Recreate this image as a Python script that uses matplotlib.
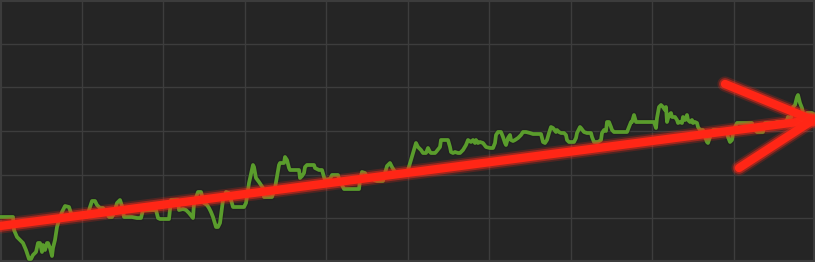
import matplotlib
matplotlib.use("Agg")
import matplotlib.pyplot as plt
import matplotlib.patheffects as pe

# time index (0..815) and level (0..262)
t = [0, 4, 13, 14, 17, 20, 23, 26, 29, 31, 33, 36, 38, 40, 42, 43, 45, 47, 48, 50,
     52, 53, 55, 57, 59, 62, 65, 69, 71, 73, 80, 85, 87, 90, 92, 95, 97, 100, 103, 107,
     109, 112, 114, 117, 120, 122, 124, 128, 132, 137, 141, 143, 150, 156, 158, 160, 169, 171, 175, 178,
     179, 183, 186, 189, 193, 194, 198, 201, 204, 207, 209, 211, 213, 216, 218, 220, 223, 226, 229, 231,
     233, 236, 244, 246, 249, 253, 254, 256, 259, 263, 264, 268, 272, 275, 279, 280, 284, 285, 287, 289,
     290, 299, 300, 302, 304, 305, 307, 314, 315, 319, 322, 324, 325, 330, 332, 338, 340, 342, 344, 359,
     360, 362, 365, 367, 369, 372, 374, 377, 383, 385, 387, 390, 392, 395, 399, 402, 406, 408, 411, 415,
     416, 418, 421, 423, 426, 428, 430, 431, 435, 436, 440, 441, 445, 448, 450, 451, 453, 455, 458, 460,
     463, 466, 468, 471, 473, 475, 476, 478, 480, 483, 486, 490, 493, 495, 496, 498, 501, 503, 505, 506,
     508, 510, 511, 513, 515, 518, 521, 523, 526, 530, 533, 541, 543, 545, 547, 549, 551, 553, 556, 557,
     559, 561, 564, 566, 567, 569, 574, 576, 577, 580, 581, 584, 587, 591, 592, 594, 598, 601, 602, 604,
     606, 607, 609, 611, 612, 614, 624, 627, 629, 631, 632, 634, 636, 654, 656, 657, 659, 661, 663, 665,
     666, 667, 669, 671, 672, 675, 677, 678, 680, 682, 683, 685, 687, 688, 690, 692, 693, 695, 697, 698,
     700, 703, 705, 707, 708, 710, 712, 713, 725, 727, 728, 730, 732, 733, 735, 737, 752, 753, 755, 757,
     763, 765, 775, 777, 785, 787, 788, 790, 792, 793, 795, 797, 798, 800, 802, 803, 805, 807, 812, 815]

level_px = [217, 217, 217, 230, 237, 240, 243, 250, 259, 259, 255, 252, 243, 243, 252, 245, 250, 243, 243, 248,
            256, 248, 240, 227, 220, 212, 206, 207, 213, 215, 215, 215, 217, 207, 201, 201, 205, 208, 208, 213,
            217, 217, 213, 203, 200, 206, 217, 217, 217, 218, 218, 210, 210, 210, 218, 219, 219, 200, 200, 200,
            210, 209, 210, 213, 218, 203, 192, 192, 203, 205, 208, 212, 217, 227, 227, 223, 200, 192, 193, 200,
            207, 207, 207, 203, 183, 165, 167, 178, 182, 188, 197, 197, 197, 188, 165, 163, 163, 157, 160, 168,
            170, 170, 178, 176, 173, 167, 165, 165, 168, 170, 170, 177, 180, 179, 175, 175, 182, 185, 189, 189,
            180, 172, 173, 177, 178, 177, 180, 181, 181, 173, 166, 163, 167, 172, 173, 173, 173, 170, 160, 147,
            143, 147, 150, 153, 153, 148, 152, 153, 153, 152, 147, 140, 140, 140, 147, 152, 153, 152, 153, 153,
            150, 145, 140, 142, 140, 143, 140, 143, 142, 143, 147, 148, 148, 143, 135, 132, 132, 137, 143, 145,
            138, 135, 140, 141, 140, 138, 135, 132, 132, 133, 134, 134, 142, 143, 140, 133, 127, 128, 132, 130,
            132, 133, 133, 135, 140, 142, 142, 138, 133, 127, 128, 132, 133, 133, 137, 142, 142, 140, 133, 130,
            131, 122, 122, 127, 130, 132, 132, 132, 127, 122, 122, 115, 122, 122, 128, 118, 107, 105, 107, 110,
            107, 122, 115, 113, 117, 117, 120, 123, 122, 123, 117, 120, 115, 120, 122, 120, 123, 122, 123, 127,
            130, 130, 137, 142, 143, 137, 132, 130, 130, 132, 137, 142, 140, 133, 127, 123, 123, 127, 130, 132,
            132, 123, 123, 122, 122, 120, 117, 122, 113, 107, 105, 97, 95, 103, 108, 113, 117, 113, 113, 115]

level = [262 - v for v in level_px]

# trend arrow (time, level)
arrow_tail = [0, 262 - 226]
arrow_tip = [813, 262 - 120]
head_upper = [725, 262 - 84]
head_lower = [739, 262 - 168]

W, H = 815, 262
fig = plt.figure(figsize=(8.15, 2.62), dpi=100, facecolor="#252525")
ax = fig.add_axes([0, 0, 1, 1])
ax.set_facecolor("#252525")
ax.set_xlim(0, W)
ax.set_ylim(0, H)
ax.set_xticks([W / 10 * k for k in range(1, 10)])
ax.set_yticks([H / 6 * k for k in range(1, 6)])
ax.tick_params(length=0, labelbottom=False, labelleft=False)
ax.grid(True, color="#3d3d3d", linewidth=1.0)
for s in ax.spines.values():
    s.set_color("#3c3c3c")
    s.set_linewidth(3)

ax.plot(t, level, color="#5a9c2c", linewidth=2.7, solid_joinstyle="round", zorder=3,
        path_effects=[pe.Stroke(linewidth=4.5, foreground="#1a1a1a", alpha=0.35), pe.Normal()])

glow = [pe.Stroke(linewidth=11, foreground="#ff2a1a", alpha=0.2),
        pe.Stroke(linewidth=8.5, foreground="#ff2a1a", alpha=0.45),
        pe.Normal()]
for a, b in [(arrow_tail, arrow_tip), (head_upper, arrow_tip), (head_lower, arrow_tip)]:
    ax.plot([a[0], b[0]], [a[1], b[1]], color="#ff2616", linewidth=6,
            solid_capstyle="round", zorder=4, path_effects=glow)

fig.savefig("out.png", dpi=100, facecolor=fig.get_facecolor())
